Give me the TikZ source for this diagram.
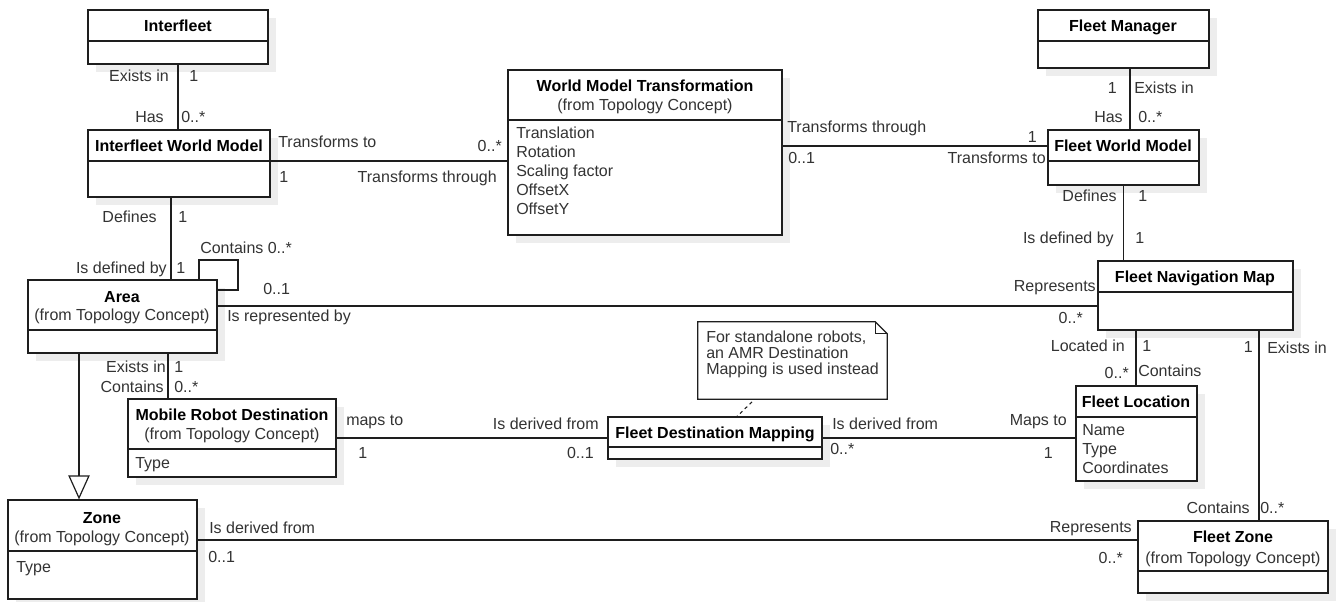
\documentclass[tikz,border=0pt]{standalone}
\usepackage{fontspec}
\setmainfont{Liberation Sans}
\usetikzlibrary{fit,arrows.meta}
\definecolor{txt}{HTML}{333333}
\definecolor{ink}{HTML}{1E1E1E}
\definecolor{shadowgray}{HTML}{EDEDED}
\newcommand\dgfont{\fontsize{12}{14}\selectfont}
\tikzset{
  classbox/.style={draw=ink, fill=white, line width=0.9pt, inner sep=0pt},
  boxshadow/.style={fill=shadowgray, draw=none},
  divider/.style={draw=ink, line width=0.9pt},
  assoc/.style={draw=ink, line width=0.8pt},
  notelink/.style={draw=ink, line width=0.8pt, dash pattern=on 2.5pt off 2.5pt},
  lbl/.style={inner sep=0pt, text=txt, font=\dgfont},
  ttl/.style={inner sep=0pt, text=black, font=\dgfont\bfseries},
}
% class box: name, x1, y1, x2, y2, y of the compartment divider
\newcommand\umlbox[6]{%
  \path[boxshadow] (#2+8,#3+8) rectangle (#4+8,#5+8);
  \node[classbox, fit={(#2,#3) (#4,#5)}] (#1) {};
  \coordinate (#1-d) at (#2,#6);
  \draw[divider] (#1-d) -- (#1-d -| #1.east);
}
\begin{document}
\begin{tikzpicture}[x=0.75pt,y=-0.75pt]
\useasboundingbox[fill=white] (0,0) rectangle (1340,601);

% ---------- classes ----------
\umlbox{interfleet}{88}{10}{268}{64}{41}
\umlbox{iwm}{88}{130}{270}{197}{161}
\umlbox{wmt}{508}{70}{782}{235}{120}
\umlbox{fm}{1038}{10}{1209}{68}{41}
\umlbox{fwm}{1048}{130}{1199}{185}{161}
\umlbox{fnm}{1098}{261}{1293}{330}{292}
\umlbox{area}{28}{280}{217}{353}{330}
\umlbox{mrd}{128}{399}{336}{477}{449}
\umlbox{zone}{8}{500}{197}{599}{551}
\umlbox{fdm}{608}{417}{822}{459}{447}
\umlbox{fl}{1076}{386}{1197}{481}{417}
\umlbox{fz}{1138}{521}{1328}{593}{571}

% ---------- note ----------
\node[inner sep=0pt, fit={(698,322) (887,399)}] (note) {};
\draw[divider, fill=white] (note.south west) -- (note.north west)
  -- ([xshift=-9pt]note.north east) -- ([yshift=-9pt]note.north east)
  -- (note.south east) -- cycle;
\draw[divider] ([xshift=-9pt]note.north east) |- ([yshift=-9pt]note.north east);
\node[lbl, anchor=base west] (note-1) at (706,342) {For standalone robots,};
\node[lbl, anchor=base west] (note-2) at (706,358) {an AMR Destination};
\node[lbl, anchor=base west] (note-3) at (706,374) {Mapping is used instead};

% ---------- class texts ----------
\node[ttl, anchor=base] (interfleet-t) at (178,31) {Interfleet};
\node[ttl, anchor=base] (iwm-t) at (179,151) {Interfleet World Model};
\node[ttl, anchor=base] (wmt-t) at (645,91) {World Model Transformation};
\node[lbl, anchor=base] (wmt-s) at (645,110) {(from Topology Concept)};
\node[lbl, anchor=base west] (wmt-a1) at (516,138) {Translation};
\node[lbl, anchor=base west] (wmt-a2) at (516,157) {Rotation};
\node[lbl, anchor=base west] (wmt-a3) at (516,176) {Scaling factor};
\node[lbl, anchor=base west] (wmt-a4) at (516,195) {OffsetX};
\node[lbl, anchor=base west] (wmt-a5) at (516,214) {OffsetY};
\node[ttl, anchor=base] (fm-t) at (1123,31) {Fleet Manager};
\node[ttl, anchor=base] (fwm-t) at (1123,151) {Fleet World Model};
\node[ttl, anchor=base] (fnm-t) at (1195,282) {Fleet Navigation Map};
\node[ttl, anchor=base] (fl-t) at (1136,407) {Fleet Location};
\node[lbl, anchor=base west] (fl-a1) at (1082,435) {Name};
\node[lbl, anchor=base west] (fl-a2) at (1082,454) {Type};
\node[lbl, anchor=base west] (fl-a3) at (1082,473) {Coordinates};
\node[ttl, anchor=base] (fz-t) at (1233,542) {Fleet Zone};
\node[lbl, anchor=base] (fz-s) at (1233,563) {(from Topology Concept)};
\node[ttl, anchor=base] (area-t) at (122,302) {Area};
\node[lbl, anchor=base] (area-s) at (122,320) {(from Topology Concept)};
\node[ttl, anchor=base] (mrd-t) at (232,420) {Mobile Robot Destination};
\node[lbl, anchor=base] (mrd-s) at (232,439) {(from Topology Concept)};
\node[lbl, anchor=base west] (mrd-a1) at (135,468) {Type};
\node[ttl, anchor=base] (zone-t) at (102,523) {Zone};
\node[lbl, anchor=base] (zone-s) at (102,542) {(from Topology Concept)};
\node[lbl, anchor=base west] (zone-a1) at (16,572) {Type};
\node[ttl, anchor=base] (fdm-t) at (715,438) {Fleet Destination Mapping};

% ---------- connector guide positions ----------
\coordinate (hWF) at (0,146);
\coordinate (vFM) at (1130,0);
\coordinate (vIA) at (171,0);
\coordinate (loopA) at (199,260);
\coordinate (loopB) at (238,290);
\coordinate (hAF) at (0,306);
\coordinate (vAM) at (168,0);
\coordinate (vAZ) at (79,0);
\coordinate (hMF) at (0,438);
\coordinate (vNL) at (1136,0);
\coordinate (vNZ) at (1259,0);
\coordinate (hZF) at (0,540);
\coordinate (nA) at (752,0);
\coordinate (nB) at (737,0);

% ---------- connectors ----------
\draw[assoc] (interfleet.south) -- (interfleet.south |- iwm.north);
\draw[assoc] (iwm-d -| iwm.east) -- (iwm-d -| wmt.west);
\draw[assoc] (wmt.east |- hWF) -- (fwm.west |- hWF);
\draw[assoc] (fm.south -| vFM) -- (fwm.north -| vFM);
\draw[assoc] (fwm.south) -- (fwm.south |- fnm.north);
\draw[assoc] (iwm.south -| vIA) -- (area.north -| vIA);
\draw[assoc] (area.north -| loopA) -- (loopA) -| (loopB) -- (loopB -| area.east);
\draw[assoc] (area.east |- hAF) -- (fnm.west |- hAF);
\draw[assoc] (area.south -| vAM) -- (mrd.north -| vAM);
\draw[assoc, -{Triangle[open, length=18pt, width=16pt, line width=0.9pt]}]
  (area.south -| vAZ) -- (zone.north -| vAZ);
\draw[assoc] (mrd.east |- hMF) -- (fdm.west |- hMF);
\draw[assoc] (fdm.east |- hMF) -- (fl.west |- hMF);
\draw[assoc] (fnm.south -| vNL) -- (fl.north -| vNL);
\draw[assoc] (fnm.south -| vNZ) -- (fz.north -| vNZ);
\draw[assoc] (zone.east |- hZF) -- (fz.west |- hZF);
\draw[notelink] ([yshift=-2pt]note.south -| nA) -- (fdm.north -| nB);

% ---------- association end labels ----------
% Interfleet -- Interfleet World Model
\node[lbl, anchor=base east] (l01) at (169,81) {Exists in};
\node[lbl, anchor=base west] (l02) at (189,81) {1};
\node[lbl, anchor=base east] (l03) at (164,122) {Has};
\node[lbl, anchor=base west] (l04) at (181,122) {0..*};
% Interfleet World Model -- World Model Transformation
\node[lbl, anchor=base west] (l05) at (278,147) {Transforms to};
\node[lbl, anchor=base east] (l06) at (502,151) {0..*};
\node[lbl, anchor=base west] (l07) at (279,182) {1};
\node[lbl, anchor=base east] (l08) at (497,182) {Transforms through};
% World Model Transformation -- Fleet World Model
\node[lbl, anchor=base west] (l09) at (787,132) {Transforms through};
\node[lbl, anchor=base west] (l10) at (788,163) {0..1};
\node[lbl, anchor=base east] (l11) at (1037,142) {1};
\node[lbl, anchor=base east] (l12) at (1046,163) {Transforms to};
% Fleet Manager -- Fleet World Model
\node[lbl, anchor=base east] (l13) at (1117,93) {1};
\node[lbl, anchor=base west] (l14) at (1134,93) {Exists in};
\node[lbl, anchor=base east] (l15) at (1123,122) {Has};
\node[lbl, anchor=base west] (l16) at (1138,122) {0..*};
% Fleet World Model -- Fleet Navigation Map
\node[lbl, anchor=base east] (l17) at (1117,201) {Defines};
\node[lbl, anchor=base west] (l18) at (1138,201) {1};
\node[lbl, anchor=base east] (l19) at (1114,243) {Is defined by};
\node[lbl, anchor=base west] (l20) at (1135,243) {1};
% Interfleet World Model -- Area
\node[lbl, anchor=base east] (l21) at (157,222) {Defines};
\node[lbl, anchor=base west] (l22) at (178,222) {1};
\node[lbl, anchor=base east] (l23) at (167,273) {Is defined by};
\node[lbl, anchor=base west] (l24) at (176,273) {1};
\node[lbl, anchor=base west] (l25) at (200,253) {Contains 0..*};
% Area -- Fleet Navigation Map
\node[lbl, anchor=base west] (l26) at (263,294) {0..1};
\node[lbl, anchor=base west] (l27) at (227,321) {Is represented by};
\node[lbl, anchor=base east] (l28) at (1096,291) {Represents};
\node[lbl, anchor=base east] (l29) at (1083,323) {0..*};
% Area -- Mobile Robot Destination
\node[lbl, anchor=base east] (l30) at (166,372) {Exists in};
\node[lbl, anchor=base west] (l31) at (174,372) {1};
\node[lbl, anchor=base east] (l32) at (164,392) {Contains};
\node[lbl, anchor=base west] (l33) at (174,392) {0..*};
% Mobile Robot Destination -- Fleet Destination Mapping
\node[lbl, anchor=base west] (l34) at (346,425) {maps to};
\node[lbl, anchor=base west] (l35) at (358,458) {1};
\node[lbl, anchor=base east] (l36) at (599,429) {Is derived from};
\node[lbl, anchor=base east] (l37) at (594,458) {0..1};
% Fleet Destination Mapping -- Fleet Location
\node[lbl, anchor=base west] (l38) at (832,429) {Is derived from};
\node[lbl, anchor=base west] (l39) at (830,454) {0..*};
\node[lbl, anchor=base east] (l40) at (1067,425) {Maps to};
\node[lbl, anchor=base east] (l41) at (1053,458) {1};
% Fleet Navigation Map -- Fleet Location
\node[lbl, anchor=base east] (l42) at (1125,351) {Located in};
\node[lbl, anchor=base west] (l43) at (1142,351) {1};
\node[lbl, anchor=base east] (l44) at (1129,378) {0..*};
\node[lbl, anchor=base west] (l45) at (1138,376) {Contains};
% Fleet Navigation Map -- Fleet Zone
\node[lbl, anchor=base east] (l46) at (1253,352) {1};
\node[lbl, anchor=base west] (l47) at (1267,353) {Exists in};
\node[lbl, anchor=base east] (l48) at (1250,513) {Contains};
\node[lbl, anchor=base west] (l49) at (1260,513) {0..*};
% Zone -- Fleet Zone
\node[lbl, anchor=base west] (l50) at (209,533) {Is derived from};
\node[lbl, anchor=base west] (l51) at (208,562) {0..1};
\node[lbl, anchor=base east] (l52) at (1132,532) {Represents};
\node[lbl, anchor=base east] (l53) at (1123,563) {0..*};
\end{tikzpicture}
\end{document}
